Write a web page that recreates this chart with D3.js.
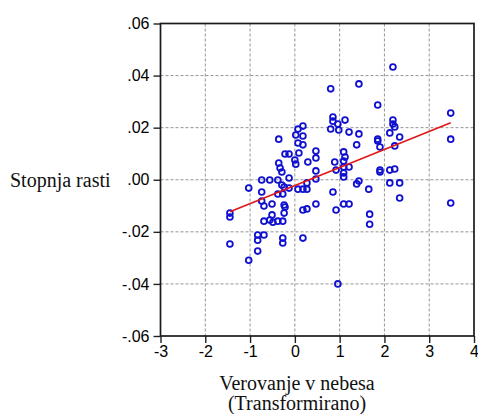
<!DOCTYPE html>
<html>
<head>
<meta charset="utf-8">
<script src="https://cdn.jsdelivr.net/npm/d3@7"></script>
<style>
  html, body { margin: 0; padding: 0; background: #ffffff; }
  svg { display: block; }
</style>
</head>
<body>
<div id="chart"></div>
<script>
// ---- data ----
const xValues = [
  2.19, 0.80, 1.43, 1.85, 3.48, 0.18, 0.07, 0.02, 0.18, -0.36,
  0.07, 0.18, 0.85, 0.85, 1.12, 0.96, 0.80, 0.98, 1.21, 1.43,
  2.19, 2.19, 2.23, 2.12, 2.34, 1.85, 1.85, 1.38, 1.90, 2.23,
  3.48, 0.47, 0.47, -0.22, -0.13, 0.09, 0.00, 0.02, -0.36, -0.33,
  -0.29, 0.29, 1.09, 1.12, 1.09, 0.89, 1.21, 1.09, 0.92, 0.47,
  1.09, 1.09, 1.90, 1.90, 2.12, 2.23, 1.43, 1.38, -0.74, -0.56,
  -0.38, -0.13, 0.47, 1.65, 2.12, 2.34, 0.85, 2.34, 0.47, 0.92,
  1.09, 1.21, 1.67, 1.67, 3.48, 0.96, -1.03, -0.29, -0.24, -0.13,
  0.07, 0.18, 0.27, 0.27, -0.74, -0.38, -0.27, -0.74, -0.69, -0.51,
  -0.24, -0.22, -1.45, -1.45, -0.51, -0.24, -0.69, -0.56, -0.49, -0.38,
  -0.27, 0.18, 0.27, -0.83, -0.69, -0.83, -0.27, -0.27, 0.18, -1.45,
  -0.83, -1.03
];
const yValues = [
  0.0433, 0.0349, 0.0368, 0.0287, 0.0256, 0.0206, 0.0195, 0.0172, 0.0168, 0.0156,
  0.0141, 0.0134, 0.0241, 0.0225, 0.0229, 0.0214, 0.0195, 0.0191, 0.0183, 0.0176,
  0.0229, 0.0214, 0.0203, 0.0180, 0.0164, 0.0156, 0.0149, 0.0134, 0.0126, 0.0130,
  0.0156, 0.0110, 0.0084, 0.0099, 0.0099, 0.0103, 0.0076, 0.0060, 0.0064, 0.0045,
  0.0030, 0.0068, 0.0107, 0.0087, 0.0072, 0.0068, 0.0049, 0.0049, 0.0037, 0.0034,
  0.0026, 0.0011, 0.0037, 0.0030, 0.0037, 0.0041, -0.0005, -0.0016, -0.0001, -0.0001,
  -0.0001, 0.0007, 0.0003, -0.0036, -0.0012, -0.0012, -0.0047, -0.0070, -0.0093, -0.0116,
  -0.0093, -0.0093, -0.0132, -0.0171, -0.0089, -0.0400, -0.0032, -0.0020, -0.0028, -0.0032,
  -0.0036, -0.0036, -0.0036, -0.0012, -0.0047, -0.0055, -0.0055, -0.0082, -0.0101, -0.0093,
  -0.0097, -0.0105, -0.0128, -0.0143, -0.0135, -0.0128, -0.0159, -0.0155, -0.0163, -0.0159,
  -0.0159, -0.0116, -0.0112, -0.0212, -0.0212, -0.0232, -0.0224, -0.0243, -0.0224, -0.0247,
  -0.0274, -0.0309
];
// fitted regression line endpoints (x, y)
const fitX = [-1.45, 3.48];
const fitY = [-0.0123, 0.0219];

const xTicks = [-3, -2, -1, 0, 1, 2, 3, 4];
const xTickLabels = ["-3", "-2", "-1", "0", "1", "2", "3", "4"];
const yTicks = [0.06, 0.04, 0.02, 0.00, -0.02, -0.04, -0.06];
const yTickLabels = [".06", ".04", ".02", ".00", "-.02", "-.04", "-.06"];

const xTitleLines = ["Verovanje v nebesa", "(Transformirano)"];
const yTitle = "Stopnja rasti";

// ---- layout ----
const W = 478, H = 414;
const plot = { left: 160.5, right: 474, top: 23.5, bottom: 336 };

const svg = d3.select("#chart").append("svg")
  .attr("width", W).attr("height", H);

const x = d3.scaleLinear().domain([-3, 4]).range([plot.left, plot.right]);
const y = d3.scaleLinear().domain([-0.06, 0.06]).range([plot.bottom, plot.top]);

// grid lines
const grid = svg.append("g");
grid.selectAll("line.vg").data(xTicks.slice(1, -1)).enter().append("line")
  .attr("x1", d => x(d)).attr("x2", d => x(d))
  .attr("y1", plot.top).attr("y2", plot.bottom)
  .attr("stroke", "#939393").attr("stroke-width", 1)
  .attr("stroke-dasharray", "3,2");
grid.selectAll("line.hg").data(yTicks.slice(1, -1)).enter().append("line")
  .attr("y1", d => y(d)).attr("y2", d => y(d))
  .attr("x1", plot.left).attr("x2", plot.right)
  .attr("stroke", "#939393").attr("stroke-width", 1)
  .attr("stroke-dasharray", "3,2");

// axes
const xAxis = d3.axisBottom(x).tickValues(xTicks)
  .tickFormat((d, i) => xTickLabels[i]).tickSize(7).tickSizeOuter(0);
const gx = svg.append("g").attr("transform", `translate(0,${plot.bottom})`).call(xAxis);
gx.select(".domain").remove();
gx.selectAll(".tick line").attr("stroke", "#222").attr("stroke-width", 1.4);
gx.selectAll(".tick text")
  .attr("font-family", "'Liberation Sans', Arial, sans-serif")
  .attr("font-size", 16).attr("fill", "#000").attr("dy", "0.71em").attr("y", 10);

const yAxis = d3.axisLeft(y).tickValues(yTicks)
  .tickFormat((d, i) => yTickLabels[i]).tickSize(7).tickSizeOuter(0);
const gy = svg.append("g").attr("transform", `translate(${plot.left},0)`).call(yAxis);
gy.select(".domain").remove();
gy.selectAll(".tick line").attr("stroke", "#222").attr("stroke-width", 1.4);
gy.selectAll(".tick text")
  .attr("font-family", "'Liberation Sans', Arial, sans-serif")
  .attr("font-size", 16).attr("fill", "#000").attr("x", -11);

// frame
svg.append("rect")
  .attr("x", plot.left).attr("y", plot.top)
  .attr("width", plot.right - plot.left).attr("height", plot.bottom - plot.top)
  .attr("fill", "none").attr("stroke", "#1a1a1a").attr("stroke-width", 1.7);

// points
const pts = xValues.map((v, i) => [v, yValues[i]]);
svg.append("g").selectAll("circle").data(pts).enter().append("circle")
  .attr("cx", d => x(d[0])).attr("cy", d => y(d[1]))
  .attr("r", 2.9)
  .attr("fill", "none").attr("stroke", "#1010d0").attr("stroke-width", 1.8);

// regression line
const line = d3.line().x(d => x(d[0])).y(d => y(d[1]));
svg.append("path")
  .datum(fitX.map((v, i) => [v, fitY[i]]))
  .attr("d", line)
  .attr("fill", "none").attr("stroke", "#e01818").attr("stroke-width", 1.7);

// titles
svg.append("text")
  .attr("x", 10).attr("y", 187)
  .attr("font-family", "'Liberation Serif', 'Times New Roman', serif")
  .attr("font-size", 20).attr("fill", "#111")
  .text(yTitle);

svg.append("text")
  .attr("x", 297).attr("y", 390)
  .attr("text-anchor", "middle")
  .attr("font-family", "'Liberation Serif', 'Times New Roman', serif")
  .attr("font-size", 20).attr("fill", "#111")
  .selectAll("tspan").data(xTitleLines).enter().append("tspan")
  .attr("x", 297).attr("dy", (d, i) => i === 0 ? 0 : 20)
  .text(d => d);
</script>
</body>
</html>
